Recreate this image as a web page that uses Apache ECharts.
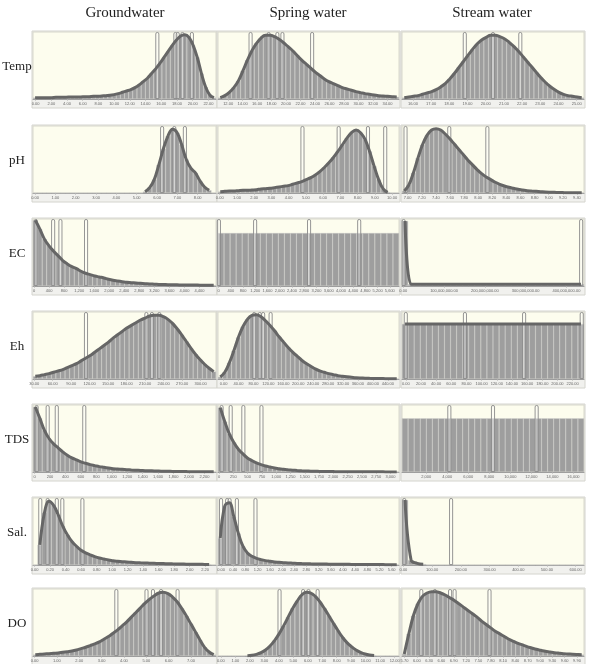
<!DOCTYPE html>
<html>
<head>
<meta charset="utf-8">
<script src="https://cdn.jsdelivr.net/npm/echarts@6/dist/echarts.min.js"></script>
<style>
  html, body { margin: 0; padding: 0; background: #fff; }
  #chart { width: 593px; height: 664px; }
</style>
</head>
<body>
<div id="chart"></div>
<script>
// headers
const columns = ['Groundwater', 'Spring water', 'Stream water']
const rows = ['Temp', 'pH', 'EC', 'Eh', 'TDS', 'Sal.', 'DO']

// ---- Temp
const tempGw = [2, 2, 2, 2, 2, 2.5, 2.5, 2.5, 3, 3, 3, 3, 3.5, 3.5, 4, 4, 4.5, 5, 5.5, 6.5, 8, 10, 12, 14, 17, 21, 26, 31, 38, 45, 53, 62, 71, 80, 88, 94, 96, 92, 80, 62, 38, 18, 6, 2]
const tempGwMarks = [15.5, 17.8, 18.1, 18.7, 19.9]
const tempGwTicks = [0, 2, 4, 6, 8, 10, 12, 14, 16, 18, 20, 22]
const tempGwRange = [-0.33, 22.97]

const tempSw = [2, 5, 10, 17, 27, 42, 58, 72, 83, 91, 95, 95, 93, 89, 84, 78, 72, 65, 58, 52, 46, 40, 35, 30, 26, 23, 20, 17, 15, 13, 11, 9.5, 8, 7, 6, 5, 4.5, 4, 3.5, 3]
const tempSwMarks = [15.1, 17.6, 18.8, 19.5, 23.6]
const tempSwTicks = [12, 14, 16, 18, 20, 22, 24, 26, 28, 30, 32, 34]
const tempSwRange = [10.6, 35.6]

const tempSt = [2, 3, 4, 5, 7, 9, 11, 14, 18, 23, 30, 38, 47, 56, 65, 74, 82, 88, 92, 95, 95, 93, 90, 85, 79, 72, 64, 56, 48, 40, 32, 25, 19, 14, 10, 7, 5, 4, 3, 2]
const tempStMarks = [18.85, 20.4, 21.9]
const tempStTicks = [16, 17, 18, 19, 20, 21, 22, 23, 24, 25]
const tempStRange = [15.4, 25.4]

// ---- pH
const phGw = [0, 0, 0, 0, 0, 0, 0, 0, 0, 0, 0, 0, 0, 0, 0, 0, 0, 0, 0, 0, 0, 0, 0, 0, 2, 8, 20, 42, 66, 85, 95, 90, 72, 50, 37, 30, 18, 9, 4, 0]
const phGwMarks = [6.25, 6.85, 7.37]
const phGwTicks = [0, 1, 2, 3, 4, 5, 6, 7, 8]
const phGwRange = [-0.1, 8.9]

const phSw = [2, 2.5, 3, 3, 3.5, 4, 4, 4.5, 5, 6, 6.5, 7, 8, 9, 10, 11, 13, 15, 17, 20, 23, 27, 32, 38, 45, 53, 62, 72, 82, 90, 94, 90, 80, 62, 40, 20, 6, 1, 0, 0]
const phSwMarks = [4.8, 6.9, 8.6, 9.6]
const phSwTicks = [0, 1, 2, 3, 4, 5, 6, 7, 8, 9, 10]
const phSwRange = [-0.1, 10.4]

const phSt = [3, 12, 30, 52, 72, 86, 94, 96, 94, 88, 81, 73, 65, 57, 49, 42, 35, 29, 24, 20, 16, 13, 10.5, 8.5, 7, 5.5, 4.5, 3.5, 3, 2.5, 2, 1.5, 1.2, 1, 0.8, 0.6, 0.5, 0.4, 0.3, 0.3]
const phStMarks = [6.97, 7.59, 8.13]
const phStTicks = [7.0, 7.2, 7.4, 7.6, 7.8, 8.0, 8.2, 8.4, 8.6, 8.8, 9.0, 9.2, 9.4]
const phStRange = [6.92, 9.5]

// ---- EC
const ecGw = [98, 85, 70, 60, 52, 45, 38, 33, 29, 26, 22, 19, 17, 15, 13.5, 12, 10, 8.5, 7.5, 6.5, 5.5, 5, 4.5, 4, 3.5, 3, 2.7, 2.4, 2.2, 2, 1.8, 1.7, 1.6, 1.5, 1.4, 1.4, 1.3, 1.3, 1.2, 1.2]
const ecGwMarks = [43, 506, 700, 1382]
const ecGwTicks = [0, 400, 800, 1200, 1600, 2000, 2400, 2800, 3200, 3600, 4000, 4400]
const ecGwRange = [-30, 4840]

const ecSw = [79, 79, 79, 79, 79, 79, 79, 79, 79, 79, 79, 79, 79, 79, 79, 79, 79, 79, 79, 79, 79, 79, 79, 79, 79, 79, 79, 79, 79, 79]
const ecSwMarks = [10, 1194, 2958, 4598]
const ecSwTicks = [0, 400, 800, 1200, 1600, 2000, 2400, 2800, 3200, 3600, 4000, 4400, 4800, 5200, 5600]
const ecSwRange = [-20, 5900]

const ecSt = [97, 2.5, 2.5, 2.5, 2.5, 2.5, 2.5, 2.5, 2.5, 2.5, 2.5, 2.5, 2.5, 2.5, 2.5, 2.5, 2.5, 2.5, 2.5, 2.5, 2.5, 2.5, 2.5, 2.5, 2.5, 2.5, 2.5, 2.5, 2.5, 2.5]
const ecStMarks = [1000000, 436000000]
const ecStTicks = [0, 100000000, 200000000, 300000000, 400000000]
const ecStRange = [-3000000, 443000000]

// ---- Eh
const ehGw = [4, 5, 6.5, 8, 10, 12, 14, 17, 20, 23, 27, 31, 35, 40, 45, 50, 55, 61, 66, 71, 76, 80, 84, 88, 91, 94, 95, 95, 93, 89, 83, 75, 66, 56, 46, 37, 29, 22, 16, 11]
const ehGwMarks = [114, 212, 221, 233]
const ehGwTicks = [30, 60, 90, 120, 150, 180, 210, 240, 270, 300]
const ehGwRange = [28, 325]

const ehSw = [3, 10, 24, 42, 62, 78, 89, 95, 96, 93, 87, 80, 72, 63, 55, 47, 40, 34, 28, 23, 19, 15, 12, 10, 8, 6.5, 5, 4, 3.2, 2.6, 2, 1.6, 1.3, 1, 0.8, 0.7, 0.6, 0.5, 0.4, 0.3]
const ehSwMarks = [82, 97, 106, 126]
const ehSwTicks = [0, 40, 80, 120, 160, 200, 240, 280, 320, 360, 400, 440]
const ehSwRange = [-15, 470]

const ehSt = [82, 82, 82, 82, 82, 82, 82, 82, 82, 82, 82, 82, 82, 82, 82, 82, 82, 82, 82, 82, 82, 82, 82, 82, 82, 82, 82, 82, 82, 82]
const ehStMarks = [0, 78, 156, 232]
const ehStTicks = [0, 20, 40, 60, 80, 100, 120, 140, 160, 180, 200, 220]
const ehStRange = [-5, 235]

// ---- TDS
const tdsGw = [97, 80, 62, 50, 42, 36, 30, 25, 21, 18, 15, 13, 11, 9.5, 8, 7, 6, 5, 4.5, 4, 3.5, 3, 2.6, 2.3, 2, 1.8, 1.6, 1.4, 1.2, 1, 0.9, 0.8, 0.7, 0.6, 0.5, 0.5, 0.4, 0.4, 0.3, 0.3]
const tdsGwMarks = [27, 170, 288, 644]
const tdsGwTicks = [0, 200, 400, 600, 800, 1000, 1200, 1400, 1600, 1800, 2000, 2200]
const tdsGwRange = [-20, 2350]

const tdsSw = [96, 75, 57, 44, 34, 27, 21, 17, 13.5, 11, 9, 7.5, 6, 5, 4, 3.3, 2.7, 2.2, 1.8, 1.5, 1.2, 1, 0.9, 0.8, 0.7, 0.6, 0.5, 0.5, 0.4, 0.4, 0.3, 0.3, 0.3, 0.2, 0.2, 0.2, 0.2, 0.1, 0.1, 0.1]
const tdsSwMarks = [43, 202, 424, 741]
const tdsSwTicks = [0, 250, 500, 750, 1000, 1250, 1500, 1750, 2000, 2250, 2500, 2750, 3000]
const tdsSwRange = [-20, 3150]

const tdsSt = [80, 80, 80, 80, 80, 80, 80, 80, 80, 80, 80, 80, 80, 80, 80, 80, 80, 80, 80, 80, 80, 80, 80, 80, 80, 80, 80, 80, 80, 80]
const tdsStMarks = [4200, 8350, 12500]
const tdsStTicks = [2000, 4000, 6000, 8000, 10000, 12000, 14000, 16000]
const tdsStRange = [-300, 17000]

// ---- Sal.
const salGw = [0, 30, 78, 95, 89, 75, 58, 45, 35, 28, 22, 18, 15, 12.5, 10.5, 9, 7.5, 6.5, 5.5, 5, 4.5, 4, 3.5, 3.2, 3, 2.7, 2.5, 2.3, 2.1, 1.9, 1.7, 1.6, 1.4, 1.3, 1.2, 1.1, 1, 0.9, 0.8, 0]
const salGwMarks = [0.074, 0.169, 0.287, 0.358, 0.617]
const salGwTicks = [0, 0.2, 0.4, 0.6, 0.8, 1.0, 1.2, 1.4, 1.6, 1.8, 2.0, 2.2]
const salGwRange = [-0.02, 2.34]

const salSw = [40, 88, 93, 72, 47, 28, 18, 13, 10, 8, 6.5, 5.5, 4.5, 4, 3.5, 3, 2.7, 2.4, 2.1, 1.9, 1.7, 1.6, 1.5, 1.4, 1.3, 1.2, 1.1, 1, 1, 0.9, 0.9, 0.8, 0.8, 0.7, 0.7, 0.6, 0.6, 0.5, 0.5, 0.5]
const salSwMarks = [0, 0.2, 0.28, 0.52, 1.13]
const salSwTicks = [0, 0.4, 0.8, 1.2, 1.6, 2.0, 2.4, 2.8, 3.2, 3.6, 4.0, 4.4, 4.8, 5.2, 5.6]
const salSwRange = [-0.1, 5.84]

const salSt = [97, 7, 2.5, 1.2, 0, 0, 0, 0, 0, 0, 0, 0, 0, 0, 0, 0, 0, 0, 0, 0, 0, 0, 0, 0, 0, 0, 0, 0, 0, 0]
const salStMarks = [3, 166]
const salStTicks = [0, 100, 200, 300, 400, 500, 600]
const salStRange = [-5, 629]

// ---- DO
const doGw = [2, 2.5, 3, 3.5, 4, 4.5, 5.5, 6.5, 7.5, 9, 11, 13, 15.5, 18, 21, 25, 29, 34, 39, 45, 51, 58, 65, 72, 79, 85, 90, 94, 95, 93, 88, 81, 71, 60, 48, 36, 24, 13, 6, 2]
const doGwMarks = [3.66, 5.01, 5.3, 5.66, 6.4]
const doGwTicks = [0, 1, 2, 3, 4, 5, 6, 7]
const doGwRange = [-0.07, 8.12]

const doSw = [0, 0, 0, 0, 0, 0, 0.5, 1, 2.5, 5, 9, 15, 23, 33, 45, 58, 71, 82, 91, 95, 94, 89, 81, 71, 60, 49, 38, 28, 20, 14, 9, 5.5, 3, 1.5, 0.7, 0, 0, 0, 0, 0]
const doSwMarks = [4.05, 5.68, 6.05, 6.68]
const doSwTicks = [0, 1, 2, 3, 4, 5, 6, 7, 8, 9, 10, 11, 12]
const doSwRange = [-0.2, 12.3]

const doSt = [3, 33, 60, 78, 89, 94, 96, 96, 94, 91, 87, 83, 78, 73, 68, 63, 58, 52, 47, 42, 37, 33, 29, 25, 22, 19, 16.5, 14, 12, 10, 8.5, 7, 6, 5, 4.2, 3.5, 3, 2.5, 2.2, 2]
const doStMarks = [6.11, 6.44, 6.81, 6.92, 7.77]
const doStTicks = [5.7, 6.0, 6.3, 6.6, 6.9, 7.2, 7.5, 7.8, 8.1, 8.4, 8.7, 9.0, 9.3, 9.6, 9.9]
const doStRange = [5.64, 10.07]

// [heights, marks, ticks, range, decimals, curve]
const panels = [
  [tempGw, tempGwMarks, tempGwTicks, tempGwRange, 2, true],
  [tempSw, tempSwMarks, tempSwTicks, tempSwRange, 2, true],
  [tempSt, tempStMarks, tempStTicks, tempStRange, 2, true],
  [phGw, phGwMarks, phGwTicks, phGwRange, 2, true],
  [phSw, phSwMarks, phSwTicks, phSwRange, 2, true],
  [phSt, phStMarks, phStTicks, phStRange, 2, true],
  [ecGw, ecGwMarks, ecGwTicks, ecGwRange, 0, true],
  [ecSw, ecSwMarks, ecSwTicks, ecSwRange, 0, false],
  [ecSt, ecStMarks, ecStTicks, ecStRange, 2, true],
  [ehGw, ehGwMarks, ehGwTicks, ehGwRange, 2, true],
  [ehSw, ehSwMarks, ehSwTicks, ehSwRange, 2, true],
  [ehSt, ehStMarks, ehStTicks, ehStRange, 2, true],
  [tdsGw, tdsGwMarks, tdsGwTicks, tdsGwRange, 0, true],
  [tdsSw, tdsSwMarks, tdsSwTicks, tdsSwRange, 0, true],
  [tdsSt, tdsStMarks, tdsStTicks, tdsStRange, 0, false],
  [salGw, salGwMarks, salGwTicks, salGwRange, 2, true],
  [salSw, salSwMarks, salSwTicks, salSwRange, 2, true],
  [salSt, salStMarks, salStTicks, salStRange, 2, true],
  [doGw, doGwMarks, doGwTicks, doGwRange, 2, true],
  [doSw, doSwMarks, doSwTicks, doSwRange, 2, true],
  [doSt, doStMarks, doStTicks, doStRange, 2, true]
]

const colLeft = [33, 218, 402]
const colWidth = [183, 181, 182]
const colCenter = [125, 308, 492]
const rowTop = [32, 126, 219, 312, 405, 498, 589]
const plotH = 67

const fmt = (v, d) => Number(v).toLocaleString('en-US', { minimumFractionDigits: d, maximumFractionDigits: d })

const grid = []
const xAxis = []
const yAxis = []
const series = []
const graphic = []

panels.forEach((p, i) => {
  const [h, marks, ticks, range, dec, curve] = p
  const r = Math.floor(i / 3)
  const c = i % 3
  const left = colLeft[c]
  const top = rowTop[r]
  const w = colWidth[c]

  // outer frame incl. label strip
  graphic.push({
    type: 'rect', z: -10, silent: true,
    shape: { x: left - 1, y: top - 1, width: w + 2, height: plotH + 10 },
    style: { fill: '#f1f1ee', stroke: '#d4d4ce', lineWidth: 1 }
  })

  grid.push({ left: left, top: top, width: w, height: plotH, show: true, backgroundColor: '#fdfdee', borderColor: '#d8d8cc', borderWidth: 1 })

  xAxis.push({ type: 'category', gridIndex: i, position: 'bottom', show: false, data: h.map((_, k) => k) })
  xAxis.push({
    type: 'value', gridIndex: i, position: 'bottom', min: range[0], max: range[1],
    splitLine: { show: false },
    axisLine: { show: true, onZero: false, lineStyle: { color: '#9a9a9a' } },
    axisTick: { show: true, length: 1.5, customValues: ticks, lineStyle: { color: '#aaa' } },
    axisLabel: { fontSize: 4, color: '#666', margin: 2.5, customValues: ticks, formatter: v => fmt(v, dec) }
  })
  yAxis.push({ type: 'value', gridIndex: i, min: 0, max: 100, show: false })

  series.push({
    type: 'bar', xAxisIndex: 2 * i, yAxisIndex: i, data: h, silent: true,
    barCategoryGap: '0%',
    itemStyle: { color: '#9e9e9e', borderColor: '#c4c4c4', borderWidth: 0.4 }
  })
  if (curve) {
    series.push({
      type: 'line', xAxisIndex: 2 * i, yAxisIndex: i, silent: true,
      data: h.map(v => (v > 0 ? v : '-')),
      smooth: 0.4, symbol: 'none',
      lineStyle: { color: '#666', width: 3 }
    })
  }
  series.push({
    type: 'bar', xAxisIndex: 2 * i + 1, yAxisIndex: i, silent: true,
    data: marks.map(m => [m, 100]), barWidth: 4,
    itemStyle: { color: 'rgba(255,255,255,0.3)', borderColor: '#8a8a8a', borderWidth: 0.9, borderRadius: [2, 2, 0, 0] }
  })
})

columns.forEach((t, c) => {
  graphic.push({
    type: 'text', x: colCenter[c], y: 13,
    style: { text: t, fontSize: 15, fontFamily: 'Liberation Serif', fill: '#222', align: 'center', verticalAlign: 'middle', textAlign: 'center', textVerticalAlign: 'middle' }
  })
})
rows.forEach((t, r) => {
  graphic.push({
    type: 'text', x: 17, y: rowTop[r] + 35,
    style: { text: t, fontSize: 13, fontFamily: 'Liberation Serif', fill: '#222', align: 'center', verticalAlign: 'middle', textAlign: 'center', textVerticalAlign: 'middle' }
  })
})

const chart = echarts.init(document.getElementById('chart'))
chart.setOption({
  animation: false,
  backgroundColor: '#fff',
  graphic: graphic,
  grid: grid,
  xAxis: xAxis,
  yAxis: yAxis,
  series: series
})
</script>
</body>
</html>
